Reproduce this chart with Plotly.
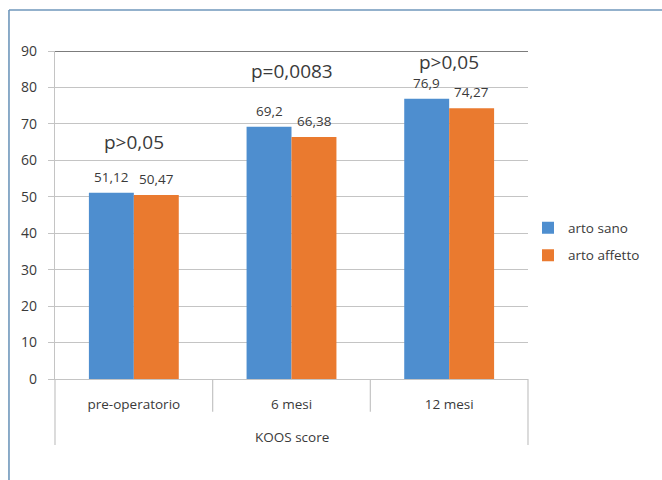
import plotly.graph_objects as go

categories = ["pre-operatorio", "6 mesi", "12 mesi"]
outer_label = "KOOS score"
series_names = ["arto sano", "arto affetto"]
arto_sano = [51.12, 69.2, 76.9]
arto_affetto = [50.47, 66.38, 74.27]
label_sano = ["51,12", "69,2", "76,9"]
label_affetto = ["50,47", "66,38", "74,27"]
p_labels = ["p>0,05", "p=0,0083", "p>0,05"]
p_y = [65, 84.5, 87]
y_ticks = [0, 10, 20, 30, 40, 50, 60, 70, 80, 90]

BLUE = "#4E8ECF"
ORANGE = "#EA7A2F"
TXT = "#3A3A3A"
GRID = "#C4C4C4"
FONT = "Open Sans"

fig = go.Figure()
fig.add_trace(go.Bar(x=categories, y=arto_sano, name=series_names[0],
                     marker=dict(color=BLUE, line=dict(width=0)),
                     legendgroup="a", hoverinfo="skip"))
fig.add_trace(go.Bar(x=categories, y=arto_affetto, name=series_names[1],
                     marker=dict(color=ORANGE, line=dict(width=0)),
                     legendgroup="b", hoverinfo="skip"))

annotations = []
for i, c in enumerate(categories):
    annotations.append(dict(x=c, y=arto_sano[i], text=label_sano[i], xref="x", yref="y",
                            showarrow=False, xshift=-22.5, yshift=16, yanchor="middle",
                            font=dict(size=13.5, color=TXT, family=FONT)))
    annotations.append(dict(x=c, y=arto_affetto[i], text=label_affetto[i], xref="x", yref="y",
                            showarrow=False, xshift=22.5, yshift=16, yanchor="middle",
                            font=dict(size=13.5, color=TXT, family=FONT)))
    annotations.append(dict(x=c, y=p_y[i], text=p_labels[i], xref="x", yref="y",
                            showarrow=False, yanchor="middle",
                            font=dict(size=19, color=TXT, family=FONT)))
annotations.append(dict(x=0.5, y=-0.177, xref="paper", yref="paper", text=outer_label,
                        showarrow=False, yanchor="middle",
                        font=dict(size=13.5, color=TXT, family=FONT)))

shapes = []
# category separators
for xv in [0.5, 1.5]:
    shapes.append(dict(type="line", xref="x", yref="paper", x0=xv, x1=xv, y0=0, y1=-0.1,
                       line=dict(color=GRID, width=1.2)))
for xv in [0, 1]:
    shapes.append(dict(type="line", xref="paper", yref="paper", x0=xv, x1=xv, y0=0, y1=-0.201,
                       line=dict(color=GRID, width=1.2)))
# dark top line at max
shapes.append(dict(type="line", xref="paper", yref="y", x0=0, x1=1, y0=90, y1=90,
                   line=dict(color="#505050", width=1.3)))
# outer frame
shapes.append(dict(type="line", xref="paper", yref="paper", x0=-0.0973, x1=2, y0=1.125, y1=1.125,
                   line=dict(color="#6F97BB", width=1.6)))
shapes.append(dict(type="line", xref="paper", yref="paper", x0=-0.0973, x1=-0.0973, y0=1.125, y1=-1,
                   line=dict(color="#6F97BB", width=1.6)))

fig.update_layout(
    width=662, height=480,
    margin=dict(l=55, r=134, t=51, b=101),
    paper_bgcolor="white", plot_bgcolor="white",
    barmode="group", bargap=0.43, bargroupgap=0,
    font=dict(family=FONT, color=TXT, size=13),
    showlegend=True,
    legend=dict(x=1.0, xanchor="left", y=0.418, yanchor="middle",
                font=dict(size=13.5, color=TXT, family=FONT),
                tracegroupgap=7, itemwidth=30, bgcolor="rgba(0,0,0,0)"),
    annotations=annotations,
    shapes=shapes,
    xaxis=dict(type="category", range=[-0.5, 2.5], showgrid=False, ticks="",
               showline=True, linecolor=GRID, linewidth=1.2, zeroline=False,
               ticklabelstandoff=13, tickfont=dict(size=13.5, color=TXT, family=FONT)),
    yaxis=dict(range=[0, 90], tickvals=y_ticks, showgrid=True, gridcolor=GRID, gridwidth=1.2,
               zeroline=False, showline=True, linecolor=GRID, linewidth=1.2,
               ticks="outside", ticklen=6, tickcolor=GRID,
               tickwidth=1.2, ticklabelstandoff=8,
               tickfont=dict(size=14, color=TXT, family=FONT)),
)

fig.write_html("out.html")
